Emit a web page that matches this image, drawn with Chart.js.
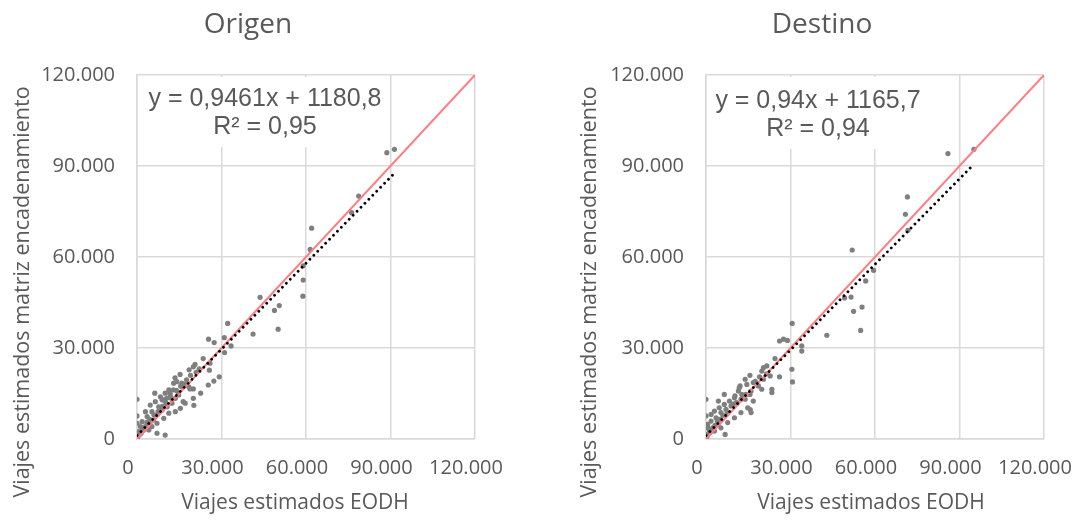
<!DOCTYPE html>
<html>
<head>
<meta charset="utf-8">
<script src="https://cdn.jsdelivr.net/npm/chart.js@4.4.1/dist/chart.umd.min.js"></script>
<style>
  html, body { margin: 0; padding: 0; background: #fff; }
  #wrap { position: relative; width: 1086px; height: 521px; overflow: hidden; background: #fff; }
  .panel { position: absolute; top: 0; width: 517px; height: 521px; }
</style>
</head>
<body>
<div id="wrap">
  <div class="panel" style="left:0"><canvas id="origen" width="517" height="521"></canvas></div>
  <div class="panel" style="left:569px"><canvas id="destino" width="517" height="521"></canvas></div>
</div>
<script>
// Axis ticks shared by both panels
const tickValues = [0, 30000, 60000, 90000, 120000];
const tickLabels = ['0', '30.000', '60.000', '90.000', '120.000'];

// 1:1 reference line
const identityLine = [0, 120000];

// Origen: trips per zone, EODH survey (x) vs chained matrix (y)
const origenX = [
  88700, 91400, 78700, 76200, 62000, 61500, 59000, 59000, 58900, 43700,
  50500, 48800, 50100, 41200, 32200, 31000, 25400, 27400, 33400, 31100,
  29200, 27300, 25300, 22600, 20200, 20600, 20000, 22100, 25900, 25700,
  15300, 13500, 14100, 15900, 17600, 18800, 20000, 12900, 11700, 10500,
  9300, 14700, 16400, 20000, 0, 0, 0, 6300, 7100, 10000,
  13000, 16000, 17100, 10000, 11800, 8900, 7700, 5300, 3600, 1800,
  1200, 600, 3000, 4200, 5900, 7100, 8900, 10700, 12400, 13600,
  14800, 4700, 3000, 6500, 8300, 11300, 2400, 4200, 5300, 7100,
  9500, 11300, 13600, 15400, 18400, 300, 900, 1500, 2000, 2500,
  3500, 4500, 6000, 7500, 9000, 10200, 12000, 14000, 15500, 17000,
  19000, 21000, 23500, 18500
];
const origenY = [
  94400, 95500, 80100, 74600, 69500, 62500, 57100, 52400, 47100, 46700,
  44000, 42400, 36200, 34600, 38100, 33400, 32900, 31800, 30700, 28500,
  20500, 19100, 17800, 15100, 11100, 24600, 23800, 23100, 25000, 22700,
  21300, 20200, 18900, 18400, 19500, 16500, 16500, 16200, 15100, 13400,
  12900, 15100, 12300, 13400, 13100, 7600, 5200, 15100, 1900, 1300,
  18400, 17200, 11800, 15100, 14500, 12900, 10600, 9000, 7400, 5700,
  4100, 2400, 4100, 5200, 6300, 7900, 9600, 10600, 11800, 13400,
  14500, 11200, 9000, 12300, 13900, 16200, 3000, 3000, 4100, 5200,
  6800, 8500, 9000, 10100, 17200, 600, 1500, 2000, 2800, 3800,
  5500, 6500, 8000, 9000, 10800, 12000, 13500, 16000, 17500, 18000,
  21000, 22000, 26500, 22800
];

// Destino: trips per zone, EODH survey (x) vs chained matrix (y)
const destinoX = [
  85900, 95100, 71500, 70800, 71700, 51900, 59500, 56700, 49200, 51500,
  52400, 55400, 54900, 42900, 30600, 26100, 27500, 28900, 34000, 34000,
  30500, 30700, 26100, 20400, 21600, 19800, 22800, 23400, 23400, 15600,
  13900, 14500, 16800, 18600, 19800, 12100, 11500, 12700, 10300, 15600,
  16800, 13900, 20400, 15700, 0, 0, 0, 6500, 6800, 4200,
  2400, 1200, 600, 1800, 3600, 5300, 7100, 8900, 10700, 12400,
  14200, 16000, 3000, 4700, 6500, 8300, 10100, 600, 600, 5300,
  7700, 10100, 12400, 14800, 16000, 1800, 11800, 3000, 4400, 300,
  1500, 2200, 3200, 4000, 5000, 6000, 7500, 9500, 11000, 13000,
  17500, 19000, 21500, 24500
];
const destinoY = [
  94100, 95500, 79800, 74100, 68800, 62300, 55600, 52100, 46500, 46800,
  42100, 43500, 35800, 34200, 38100, 32300, 32900, 32500, 30700, 29000,
  23000, 18800, 20500, 23500, 24100, 22400, 20800, 16400, 15300, 21000,
  19700, 18000, 18600, 17500, 16400, 17500, 15800, 14700, 14200, 14700,
  12500, 13100, 19700, 9700, 13100, 7600, 4800, 14700, 1500, 4800,
  3700, 2600, 1500, 5900, 7000, 8700, 9800, 10900, 12000, 13100,
  14700, 15800, 9200, 10300, 11400, 12500, 13600, 4800, 3700, 3700,
  5400, 7000, 8700, 10300, 8700, 8100, 16900, 2600, 12500, 700,
  2200, 3000, 4500, 6000, 6500, 7800, 8500, 11500, 11800, 14000,
  19000, 20500, 21500, 26500
];

// Linear fits as stated on each panel
const origenFit = { slope: 0.9461, intercept: 1180.8, r2: '0,95', eq: 'y = 0,9461x + 1180,8' };
const destinoFit = { slope: 0.94, intercept: 1165.7, r2: '0,94', eq: 'y = 0,94x + 1165,7' };

const TEXT = '#595959';
const GRID = '#d9d9d9';
const FONT = '"Open Sans", "Noto Sans", sans-serif';

// Equation box over the grid, plus panel and axis titles
const panelDecor = {
  id: 'panelDecor',
  beforeDatasetsDraw(chart, args, o) {
    const ctx = chart.ctx, a = chart.chartArea;
    ctx.save();
    ctx.fillStyle = '#ffffff';
    ctx.fillRect(a.left + 2, a.top + 2, o.boxW, o.boxH);
    ctx.fillStyle = TEXT;
    ctx.font = '25px "Liberation Sans", Arial, sans-serif';
    ctx.textAlign = 'center';
    ctx.textBaseline = 'middle';
    ctx.fillText(o.eq, o.eqX, o.eqY);
    ctx.fillText('R² = ' + o.r2, o.eqX, o.eqY + 28);
    ctx.restore();
  },
  afterDraw(chart, args, o) {
    const ctx = chart.ctx;
    ctx.save();
    ctx.fillStyle = TEXT;
    ctx.textAlign = 'center';
    ctx.textBaseline = 'middle';
    ctx.font = '28px ' + FONT;
    ctx.fillText(o.title, o.titleX, 25);
    ctx.font = '21px ' + FONT;
    ctx.fillText('Viajes estimados EODH', o.xTitleX, 503);
    ctx.font = '21.5px ' + FONT;
    ctx.translate(o.yTitleX, 292);
    ctx.rotate(-Math.PI / 2);
    ctx.fillText('Viajes estimados matriz encadenamiento', 0, 0);
    ctx.restore();
  }
};

function pairs(xs, ys) {
  return xs.map((x, i) => ({ x: x, y: ys[i] }));
}

function axis(isX) {
  return {
    type: 'linear',
    min: tickValues[0],
    max: tickValues[tickValues.length - 1],
    afterBuildTicks: s => { s.ticks = tickValues.map(v => ({ value: v })); },
    afterFit: s => {
      if (isX) { s.height = 82; s.paddingLeft = 0; s.paddingRight = 0; }
      else { s.width = 137; s.paddingTop = 0; s.paddingBottom = 0; }
    },
    grid: { color: GRID, lineWidth: 1.5, drawTicks: false },
    border: { color: GRID, width: 1.5 },
    ticks: {
      color: TEXT,
      font: { family: FONT, size: 20 },
      padding: isX ? 17 : 22,
      labelOffset: isX ? -9 : 0,
      maxRotation: 0,
      autoSkip: false,
      callback: v => tickLabels[tickValues.indexOf(v)]
    }
  };
}

function makePanel(id, xs, ys, fit, deco) {
  const maxX = Math.max(...xs);
  new Chart(document.getElementById(id), {
    type: 'scatter',
    data: {
      datasets: [
        {
          type: 'line',
          data: [
            { x: 0, y: fit.intercept },
            { x: maxX, y: fit.slope * maxX + fit.intercept }
          ],
          borderColor: '#000000',
          borderWidth: 2.8,
          borderDash: [0.01, 5.6],
          borderCapStyle: 'round',
          pointRadius: 0,
          order: 0
        },
        {
          type: 'line',
          data: pairs(identityLine, identityLine),
          borderColor: '#ff7c80',
          borderWidth: 2,
          pointRadius: 0,
          order: 1
        },
        {
          data: pairs(xs, ys),
          backgroundColor: '#7f7f7f',
          borderWidth: 0,
          pointRadius: 2.6,
          order: 2
        }
      ]
    },
    options: {
      responsive: false,
      animation: false,
      events: [],
      layout: { padding: { top: 75, right: 42, left: 0, bottom: 0 } },
      scales: { x: axis(true), y: axis(false) },
      plugins: {
        legend: { display: false },
        tooltip: { enabled: false },
        panelDecor: Object.assign({ eq: fit.eq, r2: fit.r2 }, deco)
      }
    },
    plugins: [panelDecor]
  });
}

makePanel('origen', origenX, origenY, origenFit, {
  title: 'Origen', titleX: 248, xTitleX: 295, yTitleX: 23,
  boxW: 249, boxH: 70, eqX: 265, eqY: 99
});
makePanel('destino', destinoX, destinoY, destinoFit, {
  title: 'Destino', titleX: 253, xTitleX: 302, yTitleX: 21,
  boxW: 227, boxH: 72, eqX: 249, eqY: 101
});
</script>
</body>
</html>
